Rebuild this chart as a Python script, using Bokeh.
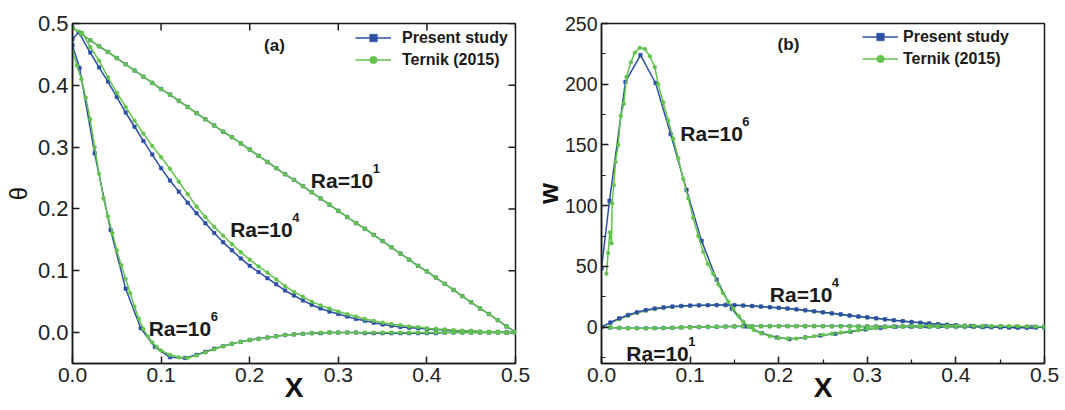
import math
from bokeh.plotting import figure
from bokeh.layouts import row
from bokeh.models import (Range1d, FixedTicker, Label, Legend, LegendItem,
                          NumeralTickFormatter, ColumnDataSource)
from bokeh.embed import file_html
from bokeh.resources import INLINE

# ---------------- data ----------------
x_grid = [0.00, 0.01, 0.02, 0.03, 0.04, 0.05, 0.06, 0.07, 0.08, 0.09,
          0.10, 0.11, 0.12, 0.13, 0.14, 0.15, 0.16, 0.17, 0.18, 0.19,
          0.20, 0.21, 0.22, 0.23, 0.24, 0.25, 0.26, 0.27, 0.28, 0.29,
          0.30, 0.31, 0.32, 0.33, 0.34, 0.35, 0.36, 0.37, 0.38, 0.39,
          0.40, 0.41, 0.42, 0.43, 0.44, 0.45, 0.46, 0.47, 0.48, 0.49, 0.50]

# (a) theta profiles
theta_ra1_present = [0.493, 0.483, 0.473, 0.463, 0.454, 0.444, 0.434, 0.424, 0.414, 0.404,
                     0.394, 0.385, 0.375, 0.365, 0.355, 0.345, 0.335, 0.325, 0.316, 0.306,
                     0.296, 0.286, 0.276, 0.266, 0.256, 0.247, 0.237, 0.227, 0.217, 0.207,
                     0.197, 0.187, 0.177, 0.168, 0.158, 0.148, 0.138, 0.128, 0.118, 0.108,
                     0.099, 0.089, 0.079, 0.069, 0.059, 0.049, 0.039, 0.030, 0.020, 0.010, 0.001]
theta_ra1_ternik = [0.493, 0.483, 0.473, 0.463, 0.454, 0.444, 0.434, 0.424, 0.414, 0.404,
                    0.394, 0.385, 0.375, 0.365, 0.355, 0.345, 0.335, 0.325, 0.316, 0.306,
                    0.296, 0.286, 0.276, 0.266, 0.256, 0.247, 0.237, 0.227, 0.217, 0.207,
                    0.197, 0.187, 0.177, 0.168, 0.158, 0.148, 0.138, 0.128, 0.118, 0.108,
                    0.099, 0.089, 0.079, 0.069, 0.059, 0.049, 0.039, 0.030, 0.020, 0.010, 0.001]

x_ra4_present = [0.00, 0.007, 0.02, 0.03, 0.04, 0.05, 0.06, 0.07, 0.08, 0.09,
                 0.10, 0.11, 0.12, 0.13, 0.14, 0.15, 0.16, 0.17, 0.18, 0.19,
                 0.20, 0.21, 0.22, 0.23, 0.24, 0.25, 0.26, 0.27, 0.28, 0.29,
                 0.30, 0.31, 0.32, 0.33, 0.34, 0.35, 0.36, 0.37, 0.38, 0.39,
                 0.40, 0.41, 0.42, 0.43, 0.44, 0.45, 0.46, 0.47, 0.48, 0.49, 0.50]
theta_ra4_present = [0.475, 0.486, 0.453, 0.429, 0.406, 0.381, 0.356, 0.333, 0.310, 0.288,
                     0.266, 0.246, 0.228, 0.210, 0.193, 0.177, 0.161, 0.146, 0.133, 0.120,
                     0.108, 0.098, 0.088, 0.078, 0.068, 0.060, 0.052, 0.045, 0.039, 0.034,
                     0.030, 0.026, 0.022, 0.019, 0.016, 0.013, 0.011, 0.009, 0.008, 0.007,
                     0.006, 0.005, 0.004, 0.003, 0.002, 0.002, 0.001, 0.001, 0.001, 0.000, 0.000]
x_ra4_ternik = [0.00, 0.011, 0.02, 0.03, 0.04, 0.05, 0.06, 0.07, 0.08, 0.09,
                0.10, 0.11, 0.12, 0.13, 0.14, 0.15, 0.16, 0.17, 0.18, 0.19,
                0.20, 0.21, 0.22, 0.23, 0.24, 0.25, 0.26, 0.27, 0.28, 0.29,
                0.30, 0.31, 0.32, 0.33, 0.34, 0.35, 0.36, 0.37, 0.38, 0.39,
                0.40, 0.41, 0.42, 0.43, 0.44, 0.45, 0.46, 0.47, 0.48, 0.49, 0.50]
theta_ra4_ternik = [0.493, 0.485, 0.462, 0.440, 0.413, 0.388, 0.365, 0.343, 0.322, 0.302,
                    0.284, 0.265, 0.244, 0.224, 0.204, 0.187, 0.171, 0.157, 0.143, 0.130,
                    0.118, 0.107, 0.097, 0.086, 0.075, 0.066, 0.058, 0.050, 0.044, 0.039,
                    0.034, 0.030, 0.026, 0.022, 0.019, 0.016, 0.014, 0.012, 0.010, 0.009,
                    0.007, 0.006, 0.005, 0.004, 0.003, 0.003, 0.002, 0.001, 0.001, 0.000, 0.000]

x_ra6_present = [0.000, 0.008, 0.025, 0.043, 0.060, 0.077, 0.093, 0.110, 0.127,
                 0.14, 0.15, 0.16, 0.17, 0.18, 0.19,
                 0.20, 0.21, 0.22, 0.23, 0.24, 0.25, 0.26, 0.27, 0.28, 0.29,
                 0.30, 0.31, 0.32, 0.33, 0.34, 0.35, 0.36, 0.37, 0.38, 0.39,
                 0.40, 0.41, 0.42, 0.43, 0.44, 0.45, 0.46, 0.47, 0.48, 0.49, 0.50]
theta_ra6_present = [0.465, 0.428, 0.290, 0.166, 0.071, 0.007, -0.023, -0.040, -0.041,
                     -0.036, -0.031, -0.026, -0.022, -0.018, -0.015,
                     -0.012, -0.010, -0.008, -0.006, -0.004, -0.003, -0.002, -0.001, -0.001, 0.000,
                     0.000, 0.000, 0.000, -0.001, -0.001, -0.001, -0.001, -0.001, -0.001, -0.001,
                     -0.001, -0.001, 0.000, 0.000, 0.000, 0.000, 0.000, 0.000, 0.000, 0.000, 0.000]
x_ra6_ternik = [0.000, 0.005, 0.010, 0.015, 0.020, 0.025, 0.030, 0.035, 0.040, 0.045,
                0.050, 0.055, 0.060, 0.065, 0.070, 0.075, 0.080, 0.085, 0.090, 0.095, 0.100,
                0.11, 0.12, 0.13, 0.14, 0.15, 0.16, 0.17, 0.18, 0.19, 0.20,
                0.21, 0.22, 0.23, 0.24, 0.25, 0.26, 0.27, 0.28, 0.29, 0.30,
                0.31, 0.32, 0.33, 0.34, 0.35, 0.36, 0.37, 0.38, 0.39, 0.40,
                0.41, 0.42, 0.43, 0.44, 0.45, 0.46, 0.47, 0.48, 0.49, 0.50]
theta_ra6_ternik = [0.455, 0.432, 0.410, 0.380, 0.345, 0.300, 0.257, 0.217, 0.188, 0.161,
                    0.133, 0.109, 0.087, 0.064, 0.042, 0.022, 0.006, -0.006, -0.016, -0.023, -0.029,
                    -0.036, -0.040, -0.041, -0.037, -0.032, -0.027, -0.022, -0.018, -0.015, -0.012,
                    -0.010, -0.008, -0.006, -0.004, -0.003, -0.002, -0.001, 0.000, 0.000, 0.000,
                    0.000, 0.000, 0.000, 0.000, 0.000, 0.000, 0.000, 0.000, 0.000, 0.000,
                    0.000, 0.000, 0.000, 0.000, 0.000, 0.000, 0.000, 0.000, 0.000, 0.000]

# (b) w profiles
w_ra1_present = [0.0, -0.4, -0.7, -0.9, -1.0, -1.0, -0.9, -0.8, -0.6, -0.4,
                 -0.2, 0.0, 0.2, 0.3, 0.4, 0.5, 0.6, 0.6, 0.7, 0.7,
                 0.7, 0.7, 0.7, 0.7, 0.7, 0.7, 0.6, 0.6, 0.6, 0.5,
                 0.5, 0.5, 0.4, 0.4, 0.4, 0.3, 0.3, 0.3, 0.3, 0.2,
                 0.2, 0.2, 0.2, 0.1, 0.1, 0.1, 0.1, 0.1, 0.0, 0.0, 0.0]
w_ra1_ternik = [0.0, -0.4, -0.7, -0.9, -1.0, -1.0, -0.9, -0.8, -0.6, -0.4,
                -0.2, 0.0, 0.2, 0.3, 0.4, 0.5, 0.6, 0.6, 0.7, 0.7,
                0.7, 0.7, 0.7, 0.7, 0.7, 0.7, 0.6, 0.6, 0.6, 0.5,
                0.5, 0.5, 0.4, 0.4, 0.4, 0.3, 0.3, 0.3, 0.3, 0.2,
                0.2, 0.2, 0.2, 0.1, 0.1, 0.1, 0.1, 0.1, 0.0, 0.0, 0.0]
w_ra4_present = [0.0, 3.8, 7.2, 10.0, 12.3, 14.0, 15.3, 16.2, 16.9, 17.4,
                 17.7, 17.9, 18.0, 18.1, 18.1, 18.0, 17.7, 17.3, 16.9, 16.4,
                 15.9, 15.3, 14.6, 13.8, 13.0, 12.2, 11.3, 10.5, 9.6, 8.8,
                 8.0, 7.2, 6.4, 5.6, 4.9, 4.2, 3.6, 3.0, 2.4, 1.9,
                 1.4, 1.0, 0.6, 0.3, 0.0, -0.2, -0.4, -0.5, -0.5, -0.3, 0.0]
w_ra4_ternik = [0.0, 3.2, 6.5, 9.3, 11.6, 13.4, 14.8, 15.8, 16.6, 17.2,
                17.6, 17.8, 18.0, 18.1, 18.1, 18.0, 17.7, 17.3, 16.8, 16.3,
                15.7, 15.1, 14.4, 13.6, 12.8, 12.0, 11.1, 10.2, 9.4, 8.6,
                7.8, 7.0, 6.2, 5.5, 4.8, 4.1, 3.5, 2.9, 2.4, 1.9,
                1.5, 1.1, 0.8, 0.5, 0.3, 0.2, 0.1, 0.1, 0.0, 0.0, 0.0]

x_w6_present = [0.000, 0.009, 0.027, 0.044, 0.061, 0.078, 0.096, 0.113, 0.130, 0.147,
                0.164, 0.181, 0.198, 0.212, 0.230, 0.247, 0.264, 0.281, 0.298, 0.315,
                0.332, 0.349, 0.366, 0.383, 0.400, 0.417, 0.434, 0.451, 0.468, 0.485, 0.500]
w_ra6_present = [48, 104, 202, 224, 201, 159, 113, 71, 39, 15,
                 0.5, -5, -8.5, -9.8, -8.5, -7, -5.5, -3.8, -2, -0.8,
                 0.2, 0.6, 0.8, 1.0, 1.0, 0.9, 0.6, 0.4, 0.2, 0.1, 0.0]
x_w6_ternik = [0.0056, 0.0075, 0.0094, 0.0113, 0.0120, 0.0139, 0.0158, 0.0188, 0.0218, 0.0252,
               0.0282, 0.0331, 0.0377, 0.0433, 0.0490, 0.0546, 0.0602, 0.0640, 0.0697, 0.0753,
               0.0810, 0.0866, 0.0922, 0.0979, 0.1035, 0.1092, 0.1148, 0.1200, 0.1260, 0.1320,
               0.1370, 0.1430, 0.1490, 0.1550, 0.1600, 0.1660, 0.1720, 0.18, 0.19, 0.20,
               0.21, 0.22, 0.23, 0.24, 0.25, 0.26, 0.27, 0.28, 0.29, 0.30,
               0.31, 0.32, 0.33, 0.34, 0.35, 0.36, 0.37, 0.38, 0.39, 0.40,
               0.41, 0.42, 0.43, 0.44, 0.45, 0.46, 0.47, 0.48, 0.49, 0.50]
w_ra6_ternik = [44, 61, 78, 69, 102, 117, 136, 150, 174, 184,
                206, 218, 226, 230, 229, 223, 214, 200, 185, 170,
                155, 139, 122, 106, 90, 75, 62, 52, 44, 35,
                28, 21, 15, 9, 4.5, 0.5, -2.5, -5, -7.5, -9,
                -9.5, -9.5, -8.5, -7.5, -6.5, -5.5, -4.5, -3.5, -2.5, -1.5,
                -0.8, -0.2, 0.3, 0.6, 0.8, 0.9, 1.0, 1.0, 1.0, 1.0,
                1.0, 1.0, 0.9, 0.9, 0.8, 0.7, 0.6, 0.5, 0.4, 0.3]

x_ticks = [0.0, 0.1, 0.2, 0.3, 0.4, 0.5]
x_minor_b = [0.05, 0.15, 0.25, 0.35, 0.45]
theta_ticks = [0.0, 0.1, 0.2, 0.3, 0.4, 0.5]
w_ticks = [0, 50, 100, 150, 200, 250]
w_minor = [-25, 25, 75, 125, 175, 225]
series_names = ["Present study", "Ternik (2015)"]

# ---------------- style ----------------
BLUE = "#2D4EA6"
GREEN = "#63C34C"
FONT = "Liberation Sans"
AX = "#1a1a1a"
H = 410


def style_axis(ax, fs):
    ax.major_tick_in = 7
    ax.major_tick_out = 0
    ax.minor_tick_in = 4
    ax.minor_tick_out = 0
    ax.axis_line_width = 1.5
    ax.axis_line_color = AX
    ax.major_tick_line_width = 1.5
    ax.major_tick_line_color = AX
    ax.minor_tick_line_width = 1.2
    ax.minor_tick_line_color = AX
    ax.major_label_text_font = FONT
    ax.major_label_text_font_size = fs
    ax.major_label_text_color = "#222222"
    ax.axis_label_text_font = FONT
    ax.axis_label_text_color = "#111111"


def add_series(p, x, y, color, marker, size):
    src = ColumnDataSource(dict(x=x, y=y))
    l = p.line('x', 'y', source=src, line_color=color, line_width=1.5)
    m = p.scatter('x', 'y', source=src, marker=marker, size=size,
                  fill_color=color, line_color=color, line_width=0.5)
    return [l, m]


def ra_label(p, x, y, sup):
    p.add_layout(Label(x=x, y=y, text="Ra=10", text_font=FONT, text_font_style="bold",
                       text_font_size="21px", text_color="#1a1a1a",
                       text_baseline="alphabetic", text_align="left"))
    p.add_layout(Label(x=x, y=y, text=sup, text_font=FONT, text_font_style="bold",
                       text_font_size="13px", text_color="#1a1a1a", x_offset=62, y_offset=12,
                       text_baseline="alphabetic", text_align="left"))


def make_legend(p, r_blue, r_green, loc, standoff):
    lg = Legend(items=[LegendItem(label=series_names[0], renderers=r_blue),
                       LegendItem(label=series_names[1], renderers=r_green)],
                location=loc)
    lg.background_fill_alpha = 0
    lg.border_line_alpha = 0
    lg.padding = 0
    lg.margin = 0
    lg.spacing = 3
    lg.glyph_width = 36
    lg.glyph_height = 19
    lg.label_height = 19
    lg.label_standoff = standoff
    lg.label_text_font = FONT
    lg.label_text_font_style = "bold"
    lg.label_text_font_size = "16px"
    lg.label_text_color = "#1a1a1a"
    p.add_layout(lg)


# ---------------- panel (a) ----------------
TOP1, BOT1 = 23, 47
p1 = figure(width=530, height=H, x_range=Range1d(0, 0.5), y_range=Range1d(-0.05, 0.5),
            output_backend="svg", toolbar_location=None,
            min_border_left=72, min_border_right=15, min_border_top=TOP1, min_border_bottom=BOT1)
p1.xgrid.visible = False
p1.ygrid.visible = False
p1.outline_line_color = AX
p1.outline_line_width = 1.5
xa = p1.below[0]
ya = p1.left[0]
style_axis(xa, "21px")
style_axis(ya, "22px")
xa.ticker = FixedTicker(ticks=x_ticks, minor_ticks=[])
ya.ticker = FixedTicker(ticks=theta_ticks, minor_ticks=[])
xa.formatter = NumeralTickFormatter(format="0.0")
ya.formatter = NumeralTickFormatter(format="0.0")
xa.major_label_standoff = 4
ya.major_label_standoff = 4
xa.axis_label = "X"
xa.axis_label_text_font_style = "bold"
xa.axis_label_text_font_size = "28px"
xa.axis_label_standoff = -13
ya.axis_label = "θ"
ya.axis_label_text_font_style = "normal"
ya.axis_label_text_font_size = "24px"
ya.axis_label_standoff = 3

# mirrored inward ticks on the top and right edges
p1.ray(x=x_ticks, y=[p1.y_range.end] * len(x_ticks), length=7, length_units="screen",
       angle=-math.pi / 2, line_color=AX, line_width=1.5)
p1.ray(x=[p1.x_range.end] * len(theta_ticks), y=theta_ticks, length=7, length_units="screen",
       angle=math.pi, line_color=AX, line_width=1.5)

b1 = add_series(p1, x_grid, theta_ra1_present, BLUE, "square", 3.5)
b4 = add_series(p1, x_ra4_present, theta_ra4_present, BLUE, "square", 3.5)
b6 = add_series(p1, x_ra6_present, theta_ra6_present, BLUE, "square", 3.5)
g1 = add_series(p1, x_grid, theta_ra1_ternik, GREEN, "circle", 3.8)
g4 = add_series(p1, x_ra4_ternik, theta_ra4_ternik, GREEN, "circle", 3.8)
g6 = add_series(p1, x_ra6_ternik, theta_ra6_ternik, GREEN, "circle", 3.8)

ra_label(p1, 0.269, 0.246, "1")
ra_label(p1, 0.178, 0.166, "4")
ra_label(p1, 0.086, 0.007, "6")
p1.add_layout(Label(x=0.228, y=0.464, text="(a)", text_font=FONT, text_font_style="bold",
                    text_font_size="17px", text_color="#1a1a1a",
                    text_baseline="middle", text_align="center"))
fh1 = H - TOP1 - BOT1
make_legend(p1, b1, g1, (283, fh1 - 5 - 41), 11)

# ---------------- panel (b) ----------------
TOP2, BOT2 = 17, 47
p2 = figure(width=535, height=H, x_range=Range1d(0, 0.5), y_range=Range1d(-30, 250),
            output_backend="svg", toolbar_location=None,
            min_border_left=66, min_border_right=21, min_border_top=TOP2, min_border_bottom=BOT2)
p2.xgrid.visible = False
p2.ygrid.visible = False
p2.outline_line_color = AX
p2.outline_line_width = 1.5
xb = p2.below[0]
yb = p2.left[0]
style_axis(xb, "21px")
style_axis(yb, "19.5px")
xb.ticker = FixedTicker(ticks=x_ticks, minor_ticks=x_minor_b)
yb.ticker = FixedTicker(ticks=w_ticks, minor_ticks=w_minor)
xb.formatter = NumeralTickFormatter(format="0.0")
yb.formatter = NumeralTickFormatter(format="0")
xb.major_label_standoff = 4
yb.major_label_standoff = 4
xb.axis_label = "X"
xb.axis_label_text_font_style = "bold"
xb.axis_label_text_font_size = "28px"
xb.axis_label_standoff = -13
yb.axis_label = "w"
yb.axis_label_text_font_style = "bold"
yb.axis_label_text_font_size = "27px"
yb.axis_label_standoff = -2

c1 = add_series(p2, x_grid, w_ra1_present, BLUE, "square", 3.5)
h1 = add_series(p2, x_grid, w_ra1_ternik, GREEN, "circle", 3.8)
h4 = add_series(p2, x_grid, w_ra4_ternik, GREEN, "circle", 3.8)
c4 = add_series(p2, x_grid, w_ra4_present, BLUE, "square", 3.5)
c6 = add_series(p2, x_w6_present, w_ra6_present, BLUE, "square", 3.5)
h6 = add_series(p2, x_w6_ternik, w_ra6_ternik, GREEN, "circle", 3.8)

ra_label(p2, 0.089, 159.6, "6")
ra_label(p2, 0.190, 27.2, "4")
ra_label(p2, 0.028, -21.8, "1")
p2.add_layout(Label(x=0.211, y=232.3, text="(b)", text_font=FONT, text_font_style="bold",
                    text_font_size="17px", text_color="#1a1a1a",
                    text_baseline="middle", text_align="center"))
fh2 = H - TOP2 - BOT2
make_legend(p2, c1, h1, (261, fh2 - 10 - 41), 5)

layout = row(p1, p2)
open("out.html", "w").write(file_html(layout, INLINE))
